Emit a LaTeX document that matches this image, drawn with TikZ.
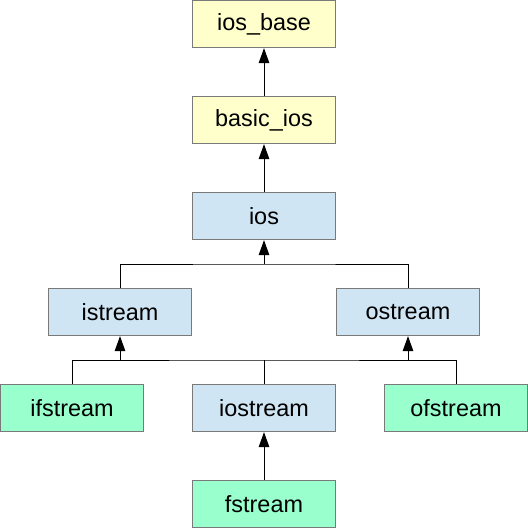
\documentclass[tikz,border=0pt]{standalone}
\usepackage{fontspec}
\setmainfont{Liberation Sans}
\usetikzlibrary{arrows.meta}
\definecolor{baseyellow}{HTML}{FFFFCC}
\definecolor{streamblue}{HTML}{CFE5F3}
\definecolor{filegreen}{HTML}{99FFCC}
\begin{document}
\begin{tikzpicture}[x=24bp,y=-24bp,
    cls/.style={draw=gray!95!black,line width=1.2bp,minimum width=143bp,minimum height=47bp,
                inner sep=0pt,font=\fontsize{23.5}{26}\selectfont},
    arr/.style={-{Triangle[length=15bp,width=10.5bp]},line width=1bp}]

        \useasboundingbox (0,0) rectangle (22,22);

        \node[cls,fill=baseyellow]  (iosbase)  at (11,1)  {ios\_base};
        \node[cls,fill=baseyellow]  (basicios) at (11,5)  {basic\_ios};
        \node[cls,fill=streamblue]  (ios)      at (11,9)  {ios};
        \node[cls,fill=streamblue]  (istream)  at (5,13)  {istream};
        \node[cls,fill=streamblue]  (ostream)  at (17,13) {ostream};
        \node[cls,fill=filegreen]   (ifstream) at (3,17)  {ifstream};
        \node[cls,fill=streamblue]  (iostream) at (11,17) {iostream};
        \node[cls,fill=filegreen]   (ofstream) at (19,17) {ofstream};
        \node[cls,fill=filegreen]   (fstream)  at (11,21) {fstream};

        % junctions of the inheritance lines
        \coordinate (upjoin)  at (11,11);
        \coordinate (lowjoin) at (11,15);
        \coordinate (injoin)  at (5,15);
        \coordinate (outjoin) at (17,15);

        \draw[arr] (basicios) -- (iosbase);
        \draw[arr] (ios) -- (basicios);
        \draw[line width=1bp] (istream.north) |- (upjoin) -| (ostream.north);
        \draw[arr] (upjoin) -- (ios);
        \draw[line width=1bp] (ifstream.north) |- (lowjoin) -| (ofstream.north);
        \draw[line width=1bp] (iostream.north) -- (lowjoin);
        \draw[arr] (injoin) -- (istream);
        \draw[arr] (outjoin) -- (ostream);
        \draw[arr] (fstream) -- (iostream);
      \end{tikzpicture}
\end{document}
